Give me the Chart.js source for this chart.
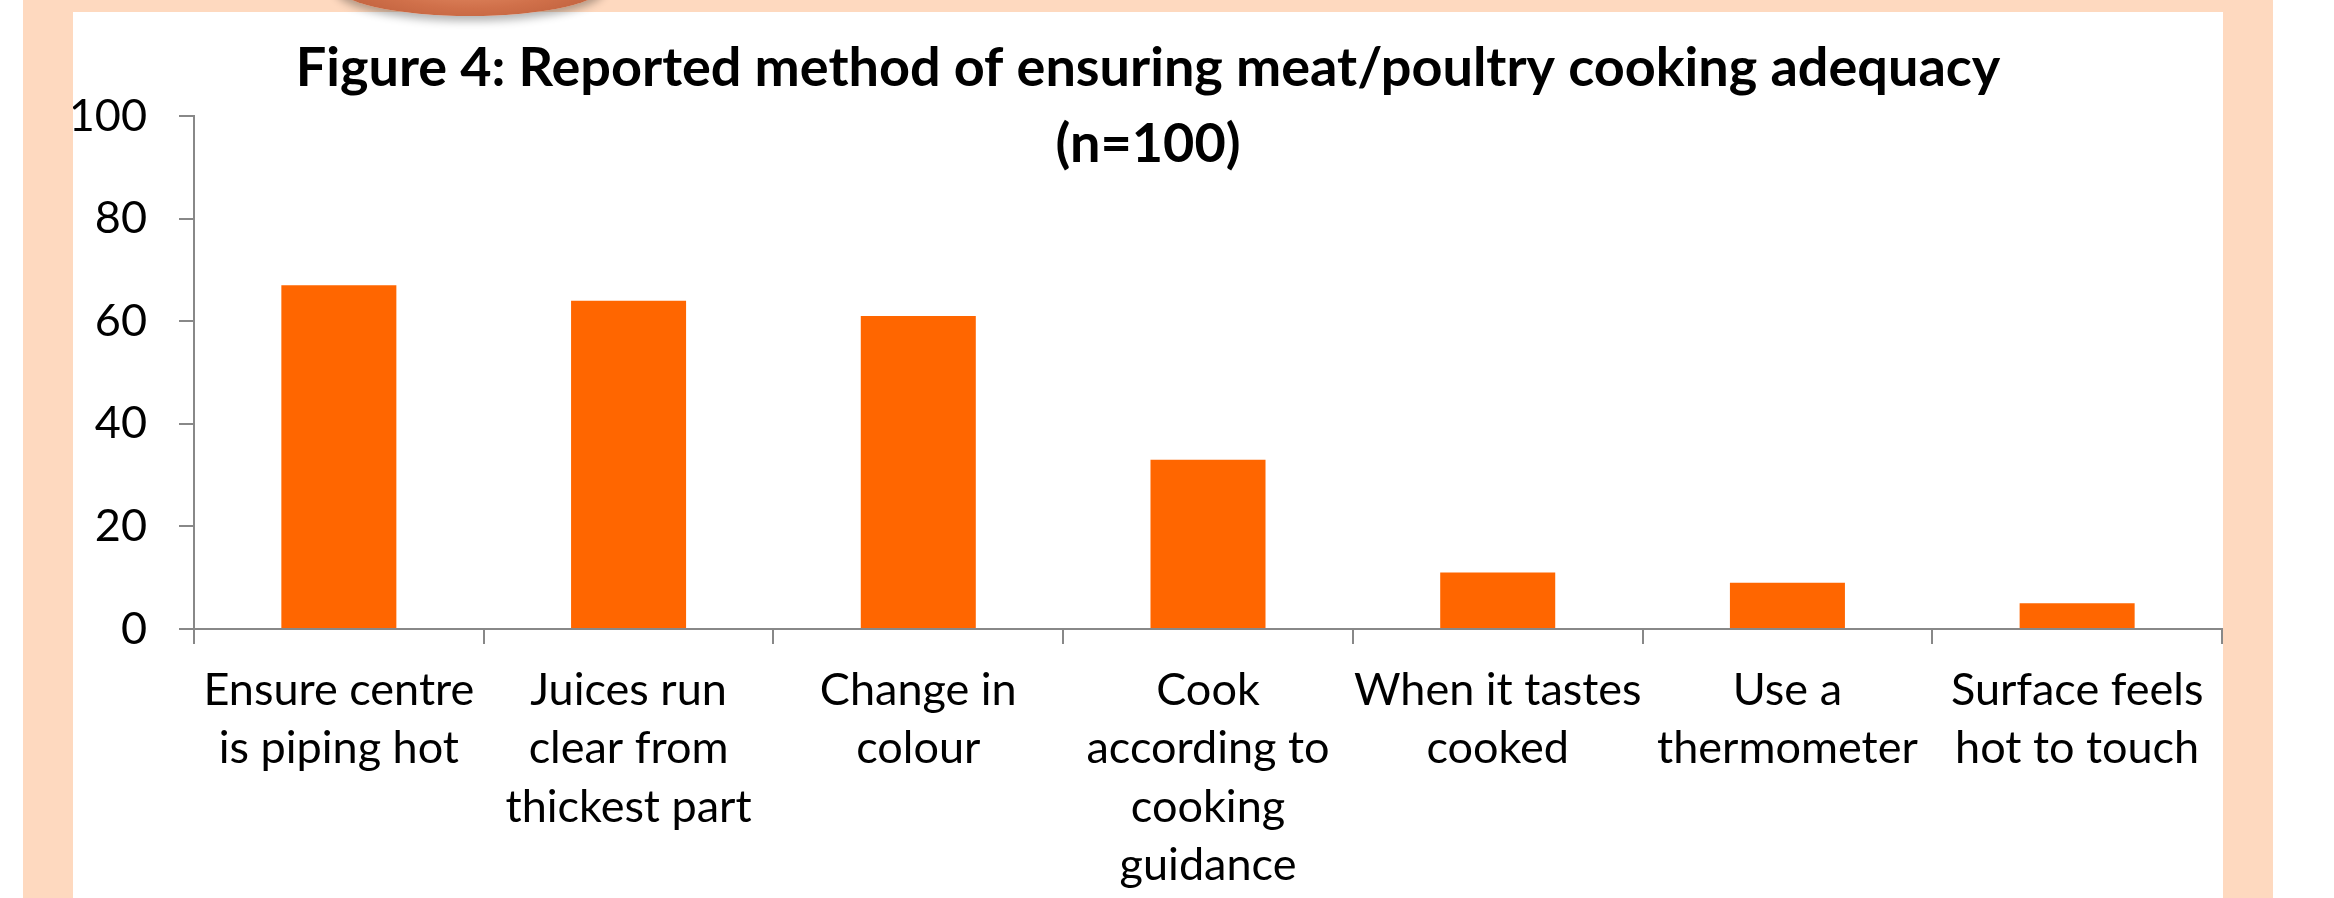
<!DOCTYPE html>
<html><head><meta charset="utf-8">
<script src="https://cdn.jsdelivr.net/npm/chart.js@4/dist/chart.umd.min.js"></script>
<style>
html,body{margin:0;padding:0;background:#fff;width:2334px;height:898px;overflow:hidden;}
#frame{position:absolute;left:23px;top:0;width:2250px;height:898px;background:#fed9bf;}
#panel{position:absolute;left:73px;top:12px;width:2150px;height:886px;background:#fff;}
#badge{position:absolute;left:335px;top:-46px;width:270px;height:62px;border-radius:50%;
  background:radial-gradient(ellipse at 50% 20%, #f2a27a 0%, #d0704a 60%, #b85a38 100%);
  box-shadow:0 5px 9px rgba(0,0,0,0.3);z-index:5}
canvas{position:absolute;left:0;top:0}
</style></head><body>
<div id="frame"></div>
<div id="panel"><canvas id="c" width="2150" height="886"></canvas></div>
<div id="badge"></div>
<script>
const TITLE_LINES = ["Figure 4: Reported method of ensuring meat/poultry cooking adequacy", "(n=100)"];
const CATEGORIES = [
  ["Ensure centre", "is piping hot"],
  ["Juices run", "clear from", "thickest part"],
  ["Change in", "colour"],
  ["Cook", "according to", "cooking", "guidance"],
  ["When it tastes", "cooked"],
  ["Use a", "thermometer"],
  ["Surface feels", "hot to touch"]
];
const VALUES = [67, 64, 61, 33, 11, 9, 5];
const Y_MIN = 0, Y_MAX = 100, Y_STEP = 20;

const FONT = "Lato, 'Open Sans', sans-serif";
const AXIS_GRAY = '#888888';

const titlePlugin = {
  id: 'fixedTitle',
  afterDraw(chart) {
    const ctx = chart.ctx;
    ctx.save();
    ctx.fillStyle = '#000';
    ctx.font = "bold 54px " + FONT;
    ctx.textAlign = 'center';
    ctx.textBaseline = 'alphabetic';
    const cx = chart.width / 2;
    const baselines = [74, 150];
    TITLE_LINES.forEach((t, i) => ctx.fillText(t, cx, baselines[i]));
    ctx.restore();
  }
};

new Chart(document.getElementById('c'), {
  type: 'bar',
  data: {
    labels: CATEGORIES,
    datasets: [{
      data: VALUES,
      backgroundColor: '#ff6600',
      borderWidth: 0,
      categoryPercentage: 1.0,
      barPercentage: 0.397
    }]
  },
  options: {
    responsive: false,
    animation: false,
    devicePixelRatio: 1,
    layout: { padding: { top: 104, left: 0, right: 1, bottom: 0 } },
    plugins: { legend: { display: false }, title: { display: false }, tooltip: { enabled: false } },
    scales: {
      x: {
        offset: true,
        grid: { display: true, drawOnChartArea: false, drawTicks: true, tickLength: 15, color: AXIS_GRAY, lineWidth: 2, offset: true },
        border: { display: true, color: AXIS_GRAY, width: 2 },
        ticks: { color: '#000', font: { family: FONT, size: 45, lineHeight: 1.3 }, padding: 17, maxRotation: 0, autoSkip: false },
        afterFit: s => { s.height = 269; }
      },
      y: {
        min: Y_MIN, max: Y_MAX,
        grid: { display: true, drawOnChartArea: false, drawTicks: true, tickLength: 15, color: AXIS_GRAY, lineWidth: 2 },
        border: { display: true, color: AXIS_GRAY, width: 2 },
        ticks: { stepSize: Y_STEP, color: '#000', font: { family: FONT, size: 45 }, padding: 32 },
        afterFit: s => { s.width = 121; }
      }
    }
  },
  plugins: [titlePlugin]
});
</script>
</body></html>
